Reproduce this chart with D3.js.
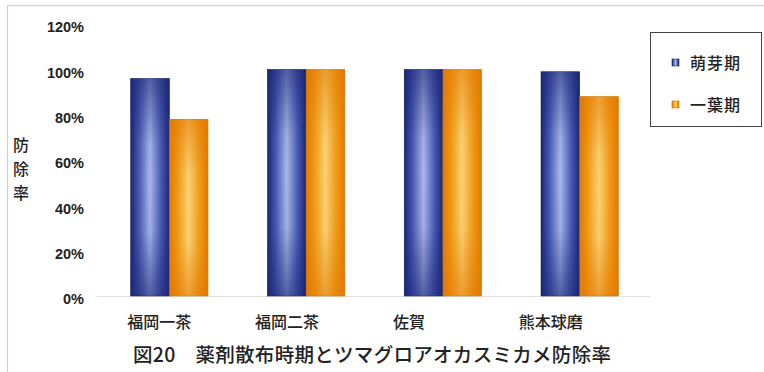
<!DOCTYPE html>
<html>
<head>
<meta charset="utf-8">
<script src="https://cdn.jsdelivr.net/npm/d3@7"></script>
<style>
  html, body { margin: 0; padding: 0; background: #fff; }
  svg { display: block; }
</style>
</head>
<body>
<svg id="chart" width="764" height="372"></svg>
<script>
// Regions, spray timings and control rates (fraction of 1)
const categories = ["福岡一茶", "福岡二茶", "佐賀", "熊本球磨"];
const seriesNames = ["萌芽期", "一葉期"];
const budStage = [0.96, 1.00, 1.00, 0.99];
const oneLeafStage = [0.78, 1.00, 1.00, 0.88];
const yTicks = [0, 0.2, 0.4, 0.6, 0.8, 1.0, 1.2];
const yTickLabels = ["0%", "20%", "40%", "60%", "80%", "100%", "120%"];
const yAxisTitle = "防除率";
const caption = "図20　薬剤散布時期とツマグロアオカスミカメ防除率";

const seriesValues = [budStage, oneLeafStage];
const rows = categories.map((c, i) => ({
  category: c,
  values: seriesNames.map((s, k) => ({ series: s, k, value: seriesValues[k][i] }))
}));

const svg = d3.select("#chart");
const jp = "'Noto Sans CJK JP', 'Noto Sans', sans-serif";

// Outer frame
svg.append("rect")
  .attr("x", 7.5).attr("y", 5.5).attr("width", 800).attr("height", 400)
  .attr("fill", "#fff").attr("stroke", "#cfcfcf").attr("stroke-width", 1.2);

const x = d3.scaleBand().domain(categories).range([102, 647])
  .paddingInner(0.435).paddingOuter(0.21);
const xs = d3.scaleBand().domain(seriesNames).range([0, x.bandwidth()]);
const y = d3.scaleLinear().domain([0, 1.2]).range([296, 24.2]);

// Bar shading: a bright vertical stripe across the bar plus darker ends
const defs = svg.append("defs");
const palettes = [
  { edge: "#1b2674", mid: "#4a5bb5", light: "#a9b8ea" },
  { edge: "#e27a00", mid: "#f09a18", light: "#f9d474" }
];
palettes.forEach((p, k) => {
  const h = defs.append("linearGradient").attr("id", "h" + k)
    .attr("x1", 0).attr("x2", 1).attr("y1", 0).attr("y2", 0);
  [[0, p.edge], [0.22, p.mid], [0.5, p.light], [0.78, p.mid], [1, p.edge]]
    .forEach(([o, c]) => h.append("stop").attr("offset", o).attr("stop-color", c));
  const v = defs.append("linearGradient").attr("id", "v" + k)
    .attr("x1", 0).attr("x2", 0).attr("y1", 0).attr("y2", 1);
  [[0, 0.6], [0.3, 0.05], [0.45, 0], [0.7, 0.05], [1, 0.6]]
    .forEach(([o, a]) => v.append("stop").attr("offset", o)
      .attr("stop-color", p.edge).attr("stop-opacity", a));
});

// Baseline
svg.append("line")
  .attr("x1", 97).attr("x2", 650).attr("y1", y(0) + 0.5).attr("y2", y(0) + 0.5)
  .attr("stroke", "#e2e2e2").attr("stroke-width", 1.2);

const groups = svg.append("g").selectAll("g").data(rows).join("g")
  .attr("transform", d => `translate(${x(d.category)},0)`);

groups.selectAll("rect.base").data(d => d.values).join("rect")
  .attr("class", "base")
  .attr("x", d => xs(d.series)).attr("width", xs.bandwidth())
  .attr("y", d => y(d.value)).attr("height", d => y(0) - y(d.value))
  .attr("fill", d => `url(#h${d.k})`)
  .attr("stroke", d => d.k === 0 ? "#1a2360" : "#cc7000").attr("stroke-width", 0.6);

groups.selectAll("rect.shade").data(d => d.values).join("rect")
  .attr("class", "shade")
  .attr("x", d => xs(d.series)).attr("width", xs.bandwidth())
  .attr("y", d => y(d.value)).attr("height", d => y(0) - y(d.value))
  .attr("fill", d => `url(#v${d.k})`);

// Y axis tick labels
const yAxis = d3.axisLeft(y).tickValues(yTicks)
  .tickFormat((d, i) => yTickLabels[i]).tickSize(0).tickPadding(0);
const yg = svg.append("g").attr("transform", "translate(84,3)").call(yAxis);
yg.select(".domain").remove();
yg.selectAll("text")
  .attr("font-family", "'Liberation Sans', Arial, sans-serif")
  .attr("font-weight", "bold").attr("font-size", 14.5).attr("fill", "#222");

// Y axis title, stacked vertically
svg.append("g").selectAll("text").data(Array.from(yAxisTitle)).join("text")
  .attr("x", 21).attr("y", (d, i) => 151 + i * 24)
  .attr("text-anchor", "middle")
  .attr("font-family", jp).attr("font-size", 16).attr("font-weight", 500)
  .attr("fill", "#222").text(d => d);

// Category labels
const labelShift = [-10, -19, -34, -29];
const xAxis = d3.axisBottom(x).tickSize(0).tickPadding(0);
const xg = svg.append("g").attr("transform", "translate(0,322)").call(xAxis);
xg.select(".domain").remove();
xg.selectAll("text")
  .attr("dx", (d, i) => labelShift[i])
  .attr("dy", "0.35em")
  .attr("font-family", jp).attr("font-size", 16).attr("font-weight", 500)
  .attr("letter-spacing", 0).attr("fill", "#222");

// Legend
const lg = svg.append("g");
lg.append("rect").attr("x", 650.5).attr("y", 32.5).attr("width", 111).attr("height", 94)
  .attr("fill", "#fff").attr("stroke", "#444").attr("stroke-width", 1);
const items = lg.selectAll("g.item").data(seriesNames).join("g")
  .attr("class", "item")
  .attr("transform", (d, i) => `translate(672,${63 + i * 42})`);
items.append("rect").attr("x", 0).attr("y", -4).attr("width", 7).attr("height", 7)
  .attr("fill", (d, i) => `url(#h${i})`)
  .attr("stroke", (d, i) => i === 0 ? "#1a2360" : "#cc7000").attr("stroke-width", 0.6);
items.append("text").attr("x", 18).attr("y", 0).attr("dy", "0.35em")
  .attr("font-family", jp).attr("font-size", 16).attr("font-weight", 500)
  .attr("letter-spacing", 1).attr("fill", "#222").text(d => d);

// Caption
svg.append("text").attr("x", 133).attr("y", 355).attr("dy", "0.35em")
  .attr("font-family", jp).attr("font-size", 19.5).attr("font-weight", 500)
  .attr("letter-spacing", 0.3).attr("fill", "#222").text(caption);
</script>
</body>
</html>
